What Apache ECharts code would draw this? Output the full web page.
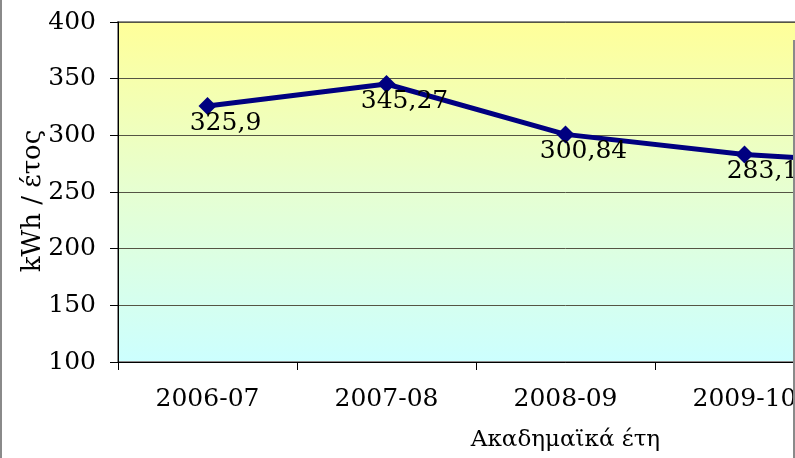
<!DOCTYPE html>
<html lang="el">
<head>
<meta charset="UTF-8">
<title>kWh / έτος</title>
<script src="https://cdn.jsdelivr.net/npm/echarts@6/dist/echarts.min.js"></script>
<style>
  html, body { margin: 0; padding: 0; background: #fff; overflow: hidden; }
  #wrap { position: relative; width: 795px; height: 458px; overflow: hidden; }
  #main { position: absolute; left: 0; top: 0; width: 1040px; height: 458px; }
  .edge { position: absolute; background: #8a8a8a; width: 2px; }
</style>
</head>
<body>
<div id="wrap">
  <div id="main"></div>
  <div class="edge" style="left:0; top:0; height:458px;"></div>
  <div class="edge" style="left:793px; top:40px; height:418px;"></div>
</div>
<script>
// data (last year is outside the visible crop)
const years = ['2006-07', '2007-08', '2008-09', '2009-10', '2010-11'];
const kwh = [325.9, 345.27, 300.84, 283.1, 273.6];
const yTicks = { min: 100, max: 400, step: 50 };

const font = 'DejaVu Serif';

let chartDom = document.getElementById('main');
let myChart = echarts.init(chartDom);
let option = {
  animation: false,
  grid: {
    left: 118, top: 22, width: 895, bottom: 96,
    show: true,
    borderColor: '#8c8c8c',
    borderWidth: 2,
    backgroundColor: new echarts.graphic.LinearGradient(0, 0, 0, 1, [
      { offset: 0, color: '#ffff99' },
      { offset: 0.5, color: '#e6ffd2' },
      { offset: 1, color: '#ccffff' }
    ])
  },
  xAxis: {
    type: 'category',
    data: years,
    boundaryGap: true,
    name: 'Ακαδημαϊκά έτη',
    nameLocation: 'middle',
    nameGap: 67,
    nameTextStyle: { fontFamily: font, fontSize: 23, color: '#000' },
    axisLine: { lineStyle: { color: '#000', width: 1 } },
    axisTick: { show: true, length: 8, lineStyle: { color: '#000' } },
    axisLabel: { fontFamily: font, fontSize: 25, color: '#000', margin: 25 }
  },
  yAxis: {
    type: 'value',
    min: yTicks.min,
    max: yTicks.max,
    interval: yTicks.step,
    name: 'kWh / έτος',
    nameLocation: 'middle',
    nameGap: 72,
    nameMoveOverlap: false,
    nameRotate: 90,
    nameTextStyle: { fontFamily: font, fontSize: 26, color: '#000', padding: [0, 18, 0, 0] },
    axisLine: { show: true, lineStyle: { color: '#000', width: 1 } },
    axisTick: { show: true, length: 8, lineStyle: { color: '#000' } },
    axisLabel: { fontFamily: font, fontSize: 25, color: '#000', margin: 22 },
    splitLine: { lineStyle: { color: '#555544', width: 1 } }
  },
  series: [{
    type: 'line',
    data: kwh,
    symbol: 'diamond',
    symbolSize: 18,
    lineStyle: { color: '#000080', width: 5 },
    itemStyle: { color: '#000080' },
    label: {
      show: true,
      position: 'bottom',
      distance: -4,
      offset: [18, 0],
      fontFamily: font,
      fontSize: 25,
      color: '#000',
      formatter: p => String(p.value).replace('.', ',')
    }
  }]
};
option && myChart.setOption(option);
</script>
</body>
</html>
